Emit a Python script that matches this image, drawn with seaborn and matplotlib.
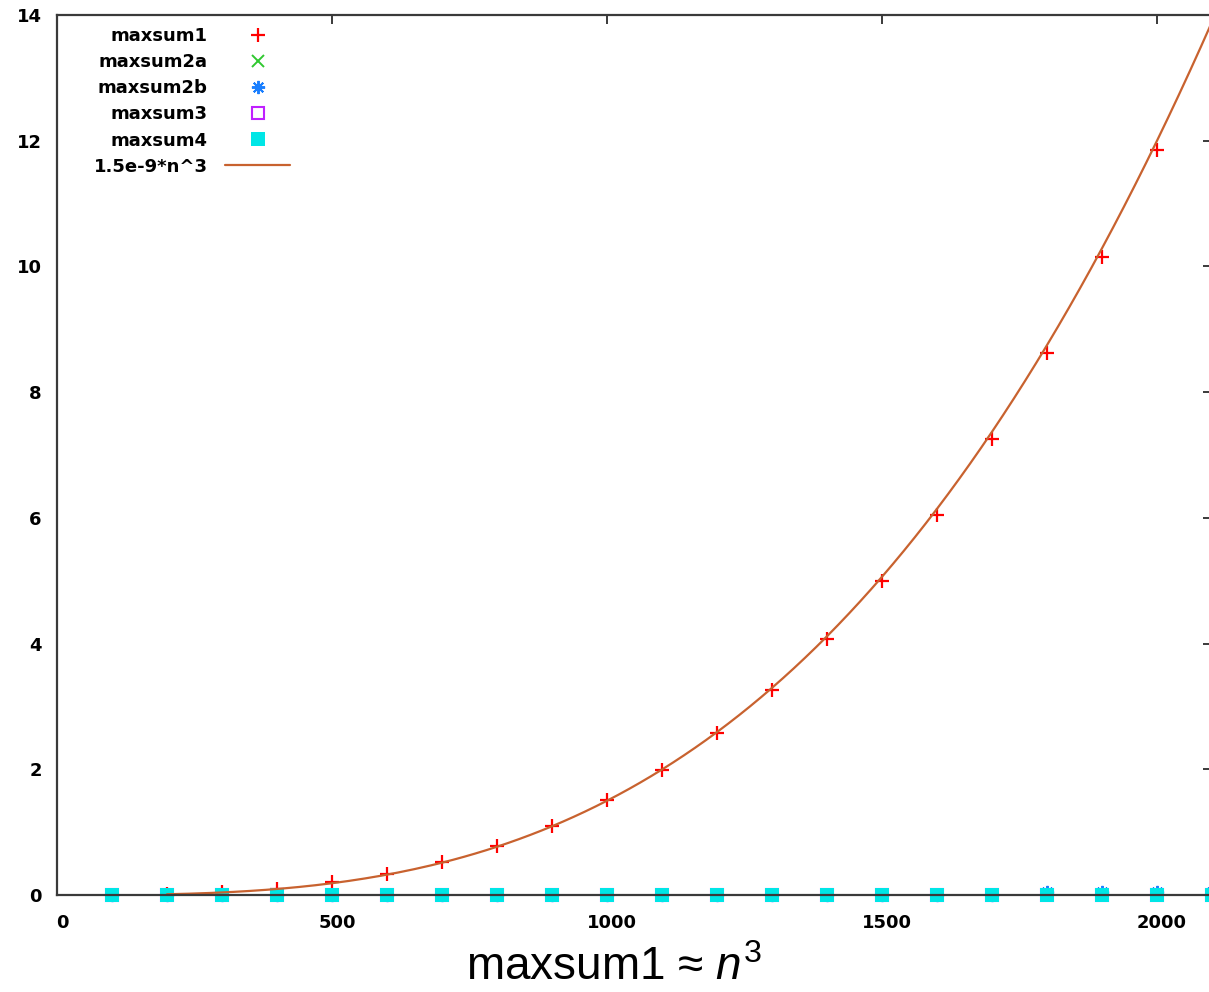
import numpy as np
import pandas as pd
import matplotlib
matplotlib.use("Agg")
import matplotlib.pyplot as plt
import matplotlib.transforms as mtransforms
import seaborn as sns

# Problem sizes
n_all = [100, 200, 300, 400, 500, 600, 700, 800, 900, 1000,
         1100, 1200, 1300, 1400, 1500, 1600, 1700, 1800, 1900, 2000, 2100]
n_cubic = n_all[:20]

# Measured running times (seconds)
maxsum1 = [0.0015, 0.012, 0.04, 0.10, 0.20, 0.33, 0.52, 0.78, 1.10, 1.51,
           1.99, 2.58, 3.26, 4.08, 5.00, 6.05, 7.26, 8.62, 10.15, 11.85]
maxsum2a = [0.0001, 0.0002, 0.0003, 0.0004, 0.0005, 0.0006, 0.0008, 0.0010,
            0.0012, 0.0014, 0.0016, 0.0018, 0.0020, 0.0022, 0.0024, 0.0026,
            0.0028, 0.0030, 0.0032, 0.0034, 0.0036]
maxsum2b = [0.0001, 0.0002, 0.0003, 0.0004, 0.0005, 0.0006, 0.0008, 0.0010,
            0.0012, 0.0014, 0.0016, 0.0018, 0.0020, 0.0022, 0.0025, 0.0030,
            0.0035, 0.040, 0.045, 0.050, 0.055]
maxsum3 = [0.0, 0.0, 0.0, 0.0, 0.0001, 0.0001, 0.0001, 0.0001, 0.0001, 0.0002,
           0.0002, 0.0002, 0.0002, 0.0002, 0.0003, 0.0003, 0.0003, 0.0003,
           0.0003, 0.0004, 0.0004]
maxsum4 = [0.0] * 21

# Fitted cubic model
coef = 1.5e-9
fit_label = "1.5e-9*n^3"

x_ticks = [0, 500, 1000, 1500, 2000]
y_ticks = [0, 2, 4, 6, 8, 10, 12, 14]

W, H = 1209, 992
sns.set_style("white")
plt.rcParams["axes.axisbelow"] = False
plt.rcParams["text.color"] = "black"
plt.rcParams["mathtext.fontset"] = "custom"
plt.rcParams["mathtext.rm"] = "Liberation Sans"
plt.rcParams["mathtext.it"] = "Liberation Sans:italic"
fig = plt.figure(figsize=(W / 100, H / 100), dpi=100)

left, right, top, bottom = 57, 1212, 15, 895
ax = fig.add_axes([left / W, 1 - bottom / H, (right - left) / W, (bottom - top) / H])

mk = dict(ls="none", clip_on=False, errorbar=None)
c1, c2a, c2b, c3, c4 = "#ff0000", "#30c830", "#1a7fff", "#c020ff", "#00e6e6"
sns.lineplot(x=n_cubic, y=maxsum1, ax=ax, marker="+", markersize=10,
             markeredgewidth=1.6, color=c1, markeredgecolor=c1,
             label="maxsum1", **mk)
sns.lineplot(x=n_all, y=maxsum2a, ax=ax, marker="x", markersize=9,
             markeredgewidth=1.4, color=c2a, markeredgecolor=c2a,
             label="maxsum2a", **mk)
sns.lineplot(x=n_all, y=maxsum2b, ax=ax, marker=(8, 2, 0), markersize=9.5,
             markeredgewidth=1.4, color=c2b, markeredgecolor=c2b,
             label="maxsum2b", **mk)
sns.lineplot(x=n_all, y=maxsum3, ax=ax, marker="s", markersize=8.5,
             markeredgewidth=1.5, markerfacecolor="none", color=c3,
             markeredgecolor=c3, label="maxsum3", **mk)
sns.lineplot(x=n_all, y=maxsum4, ax=ax, marker="s", markersize=10,
             markeredgewidth=0, color=c4, markeredgecolor=c4,
             label="maxsum4", **mk)

n_fit = np.arange(200, 2121, 10)
sns.lineplot(x=n_fit, y=coef * n_fit ** 3, ax=ax, color="#c8622f",
             linewidth=1.6, label=fit_label, errorbar=None)

ax.set_xlim(0, 2100)
ax.set_ylim(0, 14)
ax.set_xticks(x_ticks)
ax.set_yticks(y_ticks)
ax.set_xlabel("")
ax.set_ylabel("")

for s in ax.spines.values():
    s.set_color("#3a3a3a")
    s.set_linewidth(1.6)
    s.set_zorder(2.6)

ax.tick_params(axis="both", direction="in", length=6.5, width=1.4,
               color="#3a3a3a", top=True, right=True,
               labelsize=13, labelcolor="black")
ax.tick_params(axis="x", pad=14)
ax.tick_params(axis="y", pad=11)
shift = mtransforms.ScaledTranslation(5 / 100, 0, fig.dpi_scale_trans)
for lab in ax.get_xticklabels():
    lab.set_fontweight("bold")
    lab.set_transform(lab.get_transform() + shift)
for lab in ax.get_yticklabels():
    lab.set_fontweight("bold")

leg = ax.legend(loc="upper right", bbox_to_anchor=(290 / W, 1 - 27 / H),
                bbox_transform=fig.transFigure, frameon=False, markerfirst=False,
                borderpad=0, borderaxespad=0, handlelength=3.6,
                handletextpad=0.95, labelspacing=0.45,
                prop=dict(size=13, weight="bold"), labelcolor="black")

fig.text(614 / W, 1 - 980 / H, "maxsum1 ≈ $n^{3}$", ha="center",
         va="baseline", fontsize=33, family="Liberation Sans", color="black")

fig.savefig("out.png", dpi=100)
